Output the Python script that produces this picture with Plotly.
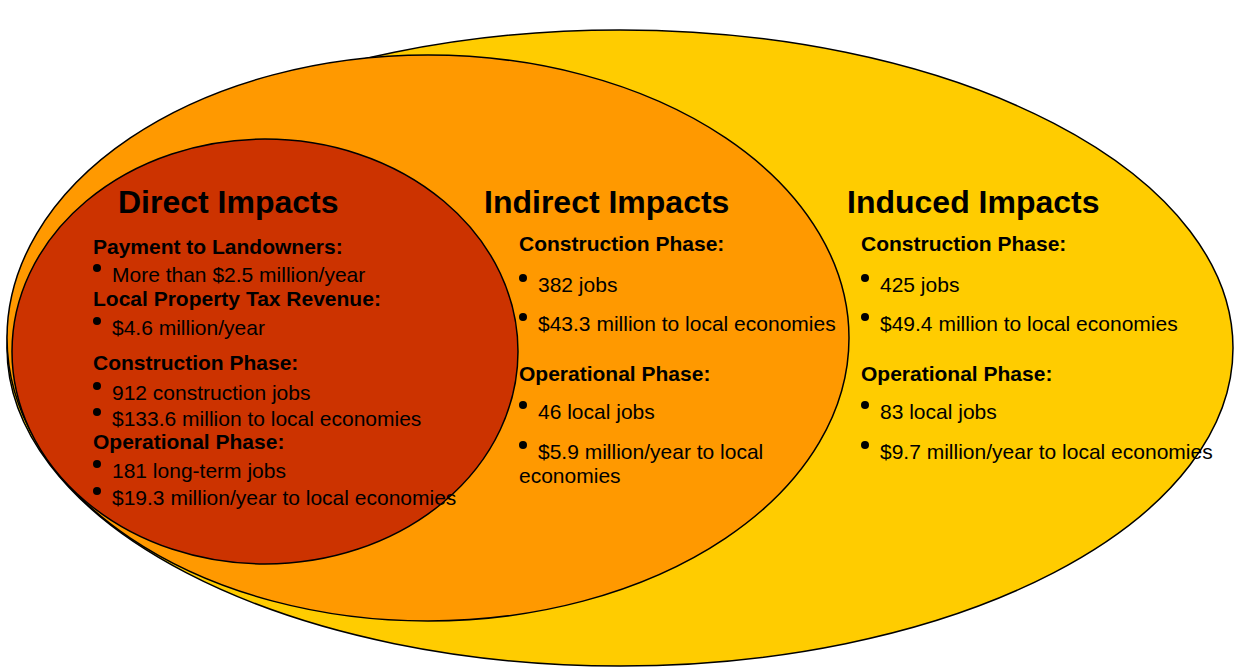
import plotly.graph_objects as go

# ---- content ----
titles = ["Direct Impacts", "Indirect Impacts", "Induced Impacts"]

direct_kinds = ["h", "b", "h", "b", "h", "b", "b", "h", "b", "b"]
direct_texts = ["Payment to Landowners:", "More than $2.5 million/year",
                "Local Property Tax Revenue:", "$4.6 million/year",
                "Construction Phase:", "912 construction jobs",
                "$133.6 million to local economies",
                "Operational Phase:", "181 long-term jobs",
                "$19.3 million/year to local economies"]

indirect_kinds = ["h", "b", "b", "h", "b", "b", "c"]
indirect_texts = ["Construction Phase:", "382 jobs",
                  "$43.3 million to local economies",
                  "Operational Phase:", "46 local jobs",
                  "$5.9 million/year to local", "economies"]

induced_kinds = ["h", "b", "b", "h", "b", "b"]
induced_texts = ["Construction Phase:", "425 jobs",
                 "$49.4 million to local economies",
                 "Operational Phase:", "83 local jobs",
                 "$9.7 million/year to local economies"]

# ---- layout (pixel coordinates) ----
W, H = 1234, 668
ellipses = [  # x0, y0, x1, y1, fill
    (7, 30, 1233, 666, "#FFCC00"),
    (7, 55, 849, 621, "#FF9900"),
    (12, 139, 518, 564, "#CC3300"),
]
title_pos = [(117, 202), (483, 202), (846, 202)]
direct_y = [246, 274, 298, 327, 362, 392, 418, 441, 470, 497]
indirect_y = [243, 284, 323, 373, 411, 451, 475]
induced_y = [243, 284, 323, 373, 411, 451]
sections = [
    (direct_kinds, direct_texts, direct_y, 92),
    (indirect_kinds, indirect_texts, indirect_y, 518),
    (induced_kinds, induced_texts, induced_y, 860),
]

FONT = "Liberation Sans, Arial, sans-serif"

fig = go.Figure()
fig.add_trace(go.Scatter(x=[0, W], y=[0, H], mode="markers",
                         marker=dict(opacity=0), hoverinfo="skip",
                         showlegend=False))

for x0, y0, x1, y1, col in ellipses:
    fig.add_shape(type="circle", xref="x", yref="y", x0=x0, y0=y0, x1=x1, y1=y1,
                  fillcolor=col, line=dict(color="black", width=1.5), layer="below")

for t, (tx, ty) in zip(titles, title_pos):
    fig.add_annotation(x=tx, y=ty, text="<b>" + t + "</b>", showarrow=False,
                       xanchor="left", yanchor="middle", borderpad=0,
                       font=dict(family=FONT, size=32, color="black"))

bx, by = [], []
for kinds, texts, ys, x in sections:
    for k, t, y in zip(kinds, texts, ys):
        if k == "h":
            fig.add_annotation(x=x, y=y, text="<b>" + t + "</b>", showarrow=False,
                               xanchor="left", yanchor="middle", borderpad=0,
                               font=dict(family=FONT, size=21, color="black"))
        elif k == "b":
            bx.append(x + 5)
            by.append(y - 6)
            fig.add_annotation(x=x + 19, y=y, text=t, showarrow=False,
                               xanchor="left", yanchor="middle", borderpad=0,
                               font=dict(family=FONT, size=21, color="black"))
        else:
            fig.add_annotation(x=x, y=y, text=t, showarrow=False,
                               xanchor="left", yanchor="middle", borderpad=0,
                               font=dict(family=FONT, size=21, color="black"))

fig.add_trace(go.Scatter(x=bx, y=by, mode="markers", hoverinfo="skip",
                         marker=dict(color="black", size=8, line=dict(width=0)),
                         showlegend=False))

fig.update_xaxes(range=[0, W], visible=False, fixedrange=True)
fig.update_yaxes(range=[H, 0], visible=False, fixedrange=True)
fig.update_layout(width=W, height=H, margin=dict(l=0, r=0, t=0, b=0),
                  plot_bgcolor="white", paper_bgcolor="white", showlegend=False)

fig.write_html("out.html", post_script="document.body.style.margin='0';",
               config={"displayModeBar": False})
